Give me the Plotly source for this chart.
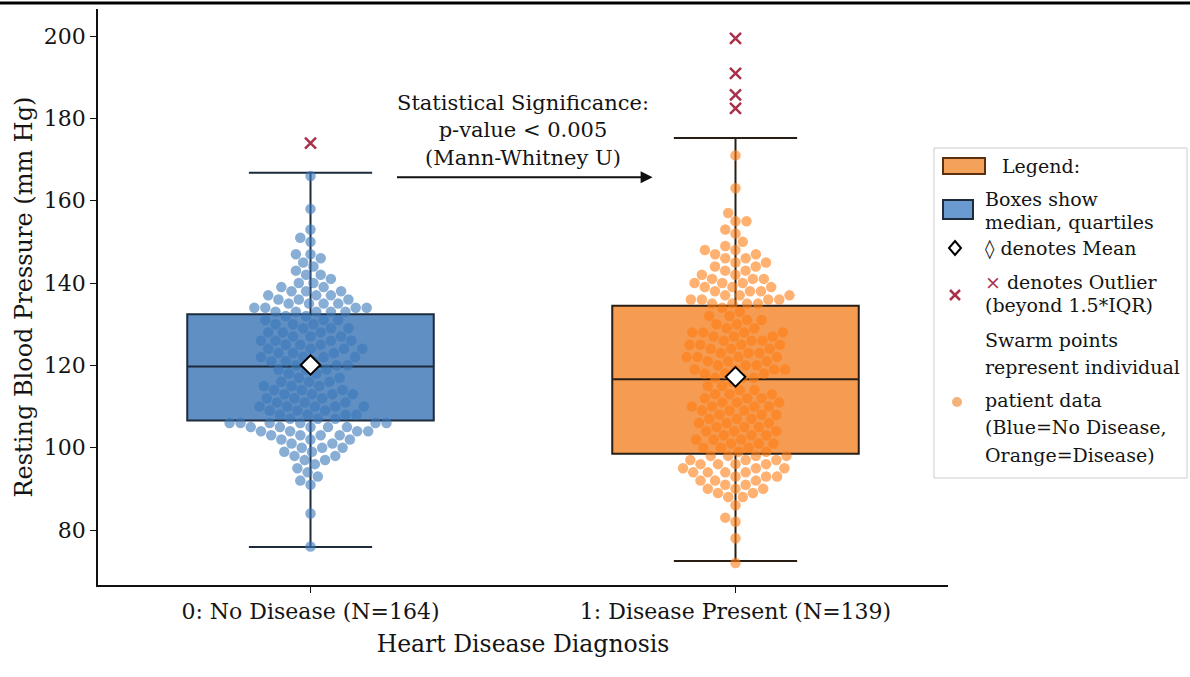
import math
import plotly.graph_objects as go

# ---- data -------------------------------------------------------------
CATEGORIES = ["0: No Disease (N=164)", "1: Disease Present (N=139)"]

# box statistics per group (mm Hg)
Q1 = [106.6, 98.5]
MEDIAN = [119.7, 116.6]
Q3 = [132.4, 134.5]
LOWER_WHISKER = [75.9, 72.5]
UPPER_WHISKER = [166.8, 175.2]
MEANS = [120.1, 117.2]

OUTLIERS_NO = [174.0]
OUTLIERS_YES = [199.4, 190.9, 185.7, 182.4]

# individual patient readings (mm Hg)
BP_NO = [
    76, 84, 91, 92, 93, 94, 95, 96, 97, 97, 98, 98, 99, 99, 100, 100, 100,
    101, 101, 102, 102, 102, 103, 103, 103, 103, 104, 104, 104, 104, 105,
    105, 105, 105, 105, 106, 106, 106, 106, 106, 106,
    107, 107, 107, 108, 108, 108, 108, 109, 109, 109, 110, 110, 110, 110,
    110, 111, 111, 111, 112, 112, 112, 113, 113, 113, 113, 114, 114, 114,
    115, 115, 115, 116, 116, 116, 117, 117, 118, 118, 119, 119, 119,
    120, 120, 120, 121, 121, 121, 122, 122, 122, 122, 123, 123, 123, 124,
    124, 124, 124, 125, 125, 125, 126, 126, 126, 126, 127, 127, 127, 128,
    128, 128, 129, 129, 129, 130, 130, 130, 131, 131, 131, 132, 132,
    133, 133, 133, 133, 133, 134, 134, 134, 134, 135, 135, 135, 135, 136,
    136, 136, 137, 137, 137, 138, 138, 138, 139, 139, 140, 140, 141, 142,
    142, 143, 144, 145, 146, 147, 147, 150, 151, 153, 158, 166,
]
BP_YES = [
    72, 78, 82, 83, 86, 88, 88, 89, 89, 90, 90, 90, 91, 91, 92, 92, 92,
    93, 93, 93, 94, 94, 94, 94, 95, 95, 95, 96, 96, 96, 96,
    97, 97, 97, 98, 98, 98, 98,
    99, 99, 100, 100, 100, 101, 101, 101, 102, 102, 102, 103, 103, 103,
    104, 104, 104, 105, 105, 105, 106, 106, 106, 107, 107, 107, 108, 108,
    108, 109, 109, 109, 110, 110, 110, 110, 111, 111, 111, 112, 112, 112,
    113, 113, 113, 114, 114, 115, 115, 116,
    117, 117, 117, 118, 118, 118, 119, 119, 119, 119, 120, 120, 120, 121,
    121, 121, 122, 122, 122, 122, 123, 123, 123, 124, 124, 124, 125, 125,
    125, 125, 126, 126, 126, 127, 127, 127, 128, 128, 128, 128, 129, 129,
    130, 130, 131, 131, 132, 132, 133, 134,
    135, 135, 135, 135, 136, 136, 136, 136, 137, 137, 137, 138, 138, 138,
    139, 139, 139, 140, 140, 140, 141, 141, 141, 142, 142, 143, 143, 144,
    144, 145, 145, 146, 146, 147, 147, 148, 148, 149, 150, 152, 153, 155,
    155, 157, 163, 171,
]

# ---- geometry ---------------------------------------------------------
FIG_W, FIG_H = 1190, 677
M_L, M_R, M_T, M_B = 98, 242, 9, 92
PLOT_W = FIG_W - M_L - M_R
PLOT_H = FIG_H - M_T - M_B
X_RANGE = [-0.5, 1.5]
Y_RANGE = [66.64, 206.56]
PX_PER_X = PLOT_W / (X_RANGE[1] - X_RANGE[0])
PX_PER_Y = PLOT_H / (Y_RANGE[1] - Y_RANGE[0])

FONT = "DejaVu Serif"
INK = "#141414"
BOX_WIDTH = 0.58


def swarm_offsets(values, diameter):
    """Beeswarm layout: horizontal pixel offsets so markers do not collide."""
    order = sorted(range(len(values)), key=lambda i: values[i])
    placed = []
    offsets = [0.0] * len(values)
    for i in order:
        y = values[i] * PX_PER_Y
        near = [(px, py) for px, py in placed if abs(py - y) < diameter]
        cands = [0.0]
        for px, py in near:
            dx = math.sqrt(max(diameter ** 2 - (py - y) ** 2, 0.0))
            cands += [px + dx, px - dx]
        cands.sort(key=lambda c: (abs(c), c))
        chosen = cands[-1]
        for c in cands:
            if all((c - px) ** 2 + (y - py) ** 2 >= diameter ** 2 - 1e-6 for px, py in near):
                chosen = c
                break
        placed.append((chosen, y))
        offsets[i] = chosen
    return offsets


def to_paper(px, py):
    return (px - M_L) / PLOT_W, (FIG_H - M_B - py) / PLOT_H


fig = go.Figure()

BOX_FILLS = ["#5f8fc3", "#f59c52"]
BOX_LINES = ["#1d2b3c", "#2a1e14"]
for i in range(2):
    fig.add_trace(go.Box(
        x=[i], q1=[Q1[i]], median=[MEDIAN[i]], q3=[Q3[i]],
        lowerfence=[LOWER_WHISKER[i]], upperfence=[UPPER_WHISKER[i]],
        width=BOX_WIDTH, whiskerwidth=0.5, boxpoints=False,
        fillcolor=BOX_FILLS[i], line=dict(color=BOX_LINES[i], width=2),
        hoverinfo="skip",
    ))

DOT_COLORS = ["#3a78ba", "#ff7d14"]
for i, vals in enumerate([BP_NO, BP_YES]):
    offs = swarm_offsets(vals, 11.0)
    fig.add_trace(go.Scatter(
        x=[i + o / PX_PER_X for o in offs], y=vals, mode="markers",
        marker=dict(size=10.5, color=DOT_COLORS[i], opacity=0.6, line=dict(width=0)),
        hoverinfo="y",
    ))

fig.add_trace(go.Scatter(
    x=[0, 1], y=MEANS, mode="markers",
    marker=dict(symbol="diamond", size=15, color="white",
                line=dict(color="black", width=2)),
))
fig.add_trace(go.Scatter(
    x=[0] * len(OUTLIERS_NO) + [1] * len(OUTLIERS_YES),
    y=OUTLIERS_NO + OUTLIERS_YES, mode="markers",
    marker=dict(symbol="x-thin", size=11, line=dict(color="#a8324a", width=2.5)),
))

# significance note with arrow
fig.add_annotation(
    x=0.5, y=177.0, xref="x", yref="y", showarrow=False,
    text="Statistical Significance:<br>p-value &lt; 0.005<br>(Mann-Whitney U)",
    font=dict(family=FONT, size=21, color=INK), align="center",
)
fig.add_annotation(
    x=0.805, y=165.7, ax=0.2, ay=165.7, xref="x", yref="y", axref="x", ayref="y",
    text="", showarrow=True, arrowhead=2, arrowsize=1.2, arrowwidth=2,
    arrowcolor="#111111",
)

# ---- legend panel -----------------------------------------------------
shapes = []
x0, y0 = to_paper(934, 478)
x1, y1 = to_paper(1187, 148)
shapes.append(dict(type="rect", xref="paper", yref="paper", x0=x0, y0=y0, x1=x1, y1=y1,
                   line=dict(color="#cccccc", width=1), fillcolor="rgba(255,255,255,0.9)"))


def rect_px(ax, ay, bx, by, fill, edge):
    a = to_paper(ax, by)
    b = to_paper(bx, ay)
    return dict(type="rect", xref="paper", yref="paper", x0=a[0], y0=a[1], x1=b[0], y1=b[1],
                fillcolor=fill, line=dict(color=edge, width=2))


def path_px(points, closed, fill, edge, width):
    pts = [to_paper(px, py) for px, py in points]
    d = "M" + " L".join(f"{x:.5f},{y:.5f}" for x, y in pts) + (" Z" if closed else "")
    return dict(type="path", xref="paper", yref="paper", path=d,
                fillcolor=fill, line=dict(color=edge, width=width))


shapes.append(rect_px(943, 158, 985, 174, "#f4a25a", "#5a3010"))
shapes.append(rect_px(943, 200, 973, 219, "#6a9bd0", "#1d2b3c"))
shapes.append(path_px([(955, 241), (961, 248), (955, 255), (949, 248)], True, "white", "black", 2))
shapes.append(path_px([(950, 290), (960, 300)], False, None, "#a8324a", 2.5))
shapes.append(path_px([(950, 300), (960, 290)], False, None, "#a8324a", 2.5))
cx, cy = to_paper(957, 402)
rx, ry = 5 / PLOT_W, 5 / PLOT_H
shapes.append(dict(type="circle", xref="paper", yref="paper", x0=cx - rx, x1=cx + rx,
                   y0=cy - ry, y1=cy + ry, fillcolor="#f2b27a", line=dict(width=0)))

# top rule
shapes.append(dict(type="line", xref="paper", yref="paper",
                   x0=-M_L / PLOT_W, x1=(FIG_W - M_L) / PLOT_W,
                   y0=to_paper(0, 3)[1], y1=to_paper(0, 3)[1],
                   line=dict(color="black", width=3)))

LEGEND_LINES = [
    (1000, 166, "Legend:"),
    (983, 199, "Boxes show"),
    (983, 222, "median, quartiles"),
    (983, 248, "\u25ca denotes Mean"),
    (983, 282, "<span style='color:#a8324a'>\u00d7</span> denotes Outlier"),
    (983, 305, "(beyond 1.5*IQR)"),
    (983, 340, "Swarm points"),
    (983, 367, "represent individual"),
    (983, 400, "patient data"),
    (983, 427, "(Blue=No Disease,"),
    (983, 455, "Orange=Disease)"),
]
for px, py, txt in LEGEND_LINES:
    lx, ly = to_paper(px, py)
    fig.add_annotation(x=lx, y=ly, xref="paper", yref="paper", text=txt, showarrow=False,
                       xanchor="left", yanchor="middle",
                       font=dict(family=FONT, size=19, color=INK))

fig.update_layout(
    width=FIG_W, height=FIG_H,
    margin=dict(l=M_L, r=M_R, t=M_T, b=M_B),
    plot_bgcolor="white", paper_bgcolor="white",
    showlegend=False, shapes=shapes,
    font=dict(family=FONT, color=INK),
    xaxis=dict(
        range=X_RANGE, tickvals=[0, 1], ticktext=CATEGORIES,
        showline=True, linecolor="#111111", linewidth=1.5,
        ticks="outside", ticklen=6, tickwidth=1.2, tickcolor="#111111",
        showgrid=False, zeroline=False,
        tickfont=dict(family=FONT, size=22),
        title=dict(text="Heart Disease Diagnosis", font=dict(family=FONT, size=23.5), standoff=12),
    ),
    yaxis=dict(
        range=Y_RANGE, tickvals=[80, 100, 120, 140, 160, 180, 200],
        showline=True, linecolor="#111111", linewidth=1.5,
        ticks="outside", ticklen=6, tickwidth=1.2, tickcolor="#111111",
        showgrid=False, zeroline=False,
        tickfont=dict(family=FONT, size=22),
        title=dict(text="Resting Blood Pressure (mm Hg)", font=dict(family=FONT, size=24), standoff=4),
    ),
)

fig.write_html("out.html")
